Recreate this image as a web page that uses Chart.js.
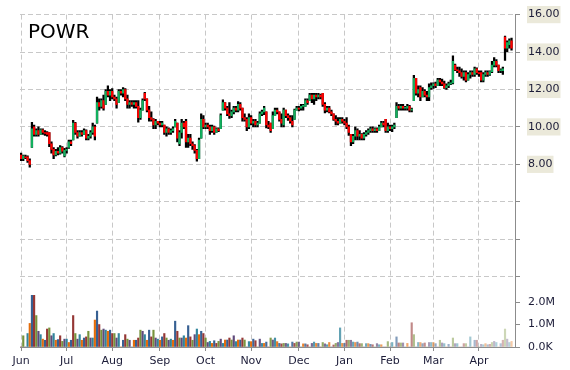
<!DOCTYPE html>
<html>
<head>
<meta charset="utf-8">
<script src="https://cdn.jsdelivr.net/npm/chart.js@4.4.1/dist/chart.umd.min.js"></script>
<style>
  body { margin: 0; background: #fff; }
  #wrap { width: 570px; height: 370px; }
</style>
</head>
<body>
<div id="wrap"><canvas id="chart"></canvas></div>
<script>
const symbol = "POWR";

// first trading day of each month (index into the daily arrays)
const monthLabels = ["Jun", "Jul", "Aug", "Sep", "Oct", "Nov", "Dec", "Jan", "Feb", "Mar", "Apr"];
const monthStarts = [0, 21, 42, 64, 85, 106, 128, 149, 170, 190, 211];

const priceTicks = [2, 4, 6, 8, 10, 12, 14, 16];
const volumeTicks = [0, 1, 2];

const opens = [
  8.5, 8.3, 8.4, 8.4, 8.2, 8.9, 10.0, 9.6, 9.8, 9.6, 9.85, 9.7, 9.7, 9.7, 9.1, 8.8, 8.5, 8.7, 8.6, 8.9, 8.45,
  8.75, 8.9, 9.2, 9.3, 10.2, 9.7, 9.5, 9.7, 9.6, 9.8, 9.4, 9.5, 9.7, 10.0, 10.2, 11.3, 11.1, 11.4, 11.2, 11.9, 11.7,
  11.9, 11.6, 11.5, 11.3, 11.9, 11.8, 12.0, 11.5, 11.2, 11.3, 11.2, 11.3, 11.1, 10.5, 10.9, 11.8, 11.5, 10.9, 10.5, 10.4, 10.1, 10.3,
  10.2, 10.1, 10.1, 9.7, 9.9, 9.7, 9.8, 10.0, 10.2, 9.1, 9.7, 10.2, 10.3, 9.2, 9.4, 9.1, 9.0, 8.75, 8.3, 9.4, 10.4,
  10.0, 10.1, 10.0, 9.8, 10.0, 9.7, 9.9, 9.9, 10.9, 11.3, 11.0, 10.7, 10.6, 10.8, 11.0, 10.9, 11.2, 11.0, 10.5, 10.4, 10.0,
  10.5, 10.2, 10.3, 10.1, 10.2, 10.7, 10.8, 10.8, 10.1, 10.2, 9.9, 10.6, 10.9, 10.8, 10.4, 10.1, 10.9, 10.6, 10.5, 10.3, 10.4, 10.9,
  11.0, 11.0, 11.1, 11.1, 11.4, 11.4, 11.7, 11.5, 11.7, 11.6, 11.7, 11.8, 11.2, 10.9, 11.0, 10.8, 10.7, 10.4, 10.3, 10.2, 10.4,
  10.3, 10.2, 10.0, 9.6, 9.2, 9.5, 9.8, 9.5, 9.6, 9.4, 9.6, 9.7, 9.8, 9.9, 9.8, 9.9, 9.8, 10.0, 10.2, 10.4, 9.8,
  10.0, 9.9, 10.0, 10.5, 11.1, 11.0, 11.1, 11.0, 11.0, 11.1, 10.9, 11.4, 12.6, 11.8, 12.1, 11.6, 11.9, 11.7, 11.6, 12.1,
  12.2, 12.3, 12.2, 12.5, 12.4, 12.3, 12.1, 12.2, 12.3, 12.35, 13.3, 13.05, 13.0, 12.9, 12.7, 12.9, 12.5, 12.8, 12.9, 12.8, 13.1,
  12.9, 12.9, 12.5, 12.8, 12.9, 12.8, 12.95, 13.3, 13.5, 13.3, 13.0, 13.0, 14.8, 14.2, 14.4, 14.6
];
const highs = [
  8.6, 8.5, 8.5, 8.45, 8.3, 10.25, 10.1, 9.9, 10.0, 9.9, 9.9, 9.8, 9.75, 9.7, 9.2, 8.9, 8.8, 8.9, 9.0, 8.95, 8.85,
  8.9, 9.3, 9.3, 10.35, 10.25, 9.8, 9.8, 9.8, 9.9, 9.85, 9.6, 9.8, 10.2, 10.1, 11.6, 11.5, 11.5, 11.7, 12.0, 12.2, 12.0,
  12.05, 11.7, 11.6, 12.0, 12.0, 12.1, 12.05, 11.7, 11.4, 11.4, 11.4, 11.4, 11.4, 11.0, 11.5, 11.85, 11.5, 11.1, 10.8, 10.45, 10.4, 10.3,
  10.3, 10.3, 10.1, 10.0, 9.95, 9.9, 10.0, 10.4, 10.2, 9.8, 10.4, 10.3, 10.4, 9.6, 9.6, 9.2, 9.05, 8.8, 9.4, 10.7, 10.6,
  10.2, 10.2, 10.1, 10.1, 10.05, 9.95, 9.95, 10.7, 11.45, 11.3, 11.1, 11.3, 10.9, 11.1, 11.1, 11.35, 11.3, 11.0, 10.7, 10.5, 10.7,
  10.6, 10.4, 10.4, 10.3, 10.8, 10.9, 11.1, 10.8, 10.3, 10.2, 10.8, 11.0, 11.0, 10.8, 10.7, 11.0, 10.9, 10.7, 10.6, 10.6, 10.95, 11.1,
  11.1, 11.2, 11.2, 11.5, 11.5, 11.8, 11.8, 11.8, 11.8, 11.8, 11.75, 11.8, 11.3, 11.1, 11.1, 10.9, 10.7, 10.6, 10.5, 10.5, 10.5,
  10.4, 10.5, 10.1, 9.6, 9.6, 10.0, 9.9, 9.8, 9.65, 9.7, 9.8, 9.9, 10.0, 10.0, 9.95, 9.95, 10.1, 10.3, 10.3, 10.4, 10.2,
  10.1, 10.1, 10.2, 11.3, 11.2, 11.2, 11.2, 11.1, 11.2, 11.15, 11.0, 12.75, 12.6, 12.2, 12.2, 12.1, 12.0, 11.9, 12.3, 12.35,
  12.35, 12.4, 12.6, 12.6, 12.55, 12.45, 12.3, 12.4, 12.5, 13.8, 13.35, 13.2, 13.2, 13.1, 13.0, 13.0, 12.9, 13.0, 13.0, 13.2, 13.15,
  13.0, 13.0, 12.9, 13.0, 13.0, 13.0, 13.5, 13.7, 13.6, 13.3, 13.1, 13.2, 14.85, 14.6, 14.7, 14.75
];
const lows = [
  8.2, 8.2, 8.3, 8.1, 7.85, 8.9, 9.5, 9.5, 9.5, 9.6, 9.6, 9.55, 9.5, 8.95, 8.6, 8.3, 8.45, 8.5, 8.55, 8.6, 8.4,
  8.6, 8.85, 9.0, 9.3, 9.6, 9.4, 9.5, 9.5, 9.6, 9.3, 9.3, 9.4, 9.6, 9.3, 10.2, 10.9, 11.0, 10.9, 11.2, 11.6, 11.4,
  11.5, 11.4, 11.0, 11.3, 11.7, 11.6, 11.4, 11.0, 11.0, 11.1, 11.0, 11.0, 10.25, 10.4, 10.9, 11.4, 10.8, 10.3, 10.3, 9.9, 9.9, 10.1,
  10.0, 10.0, 9.6, 9.5, 9.6, 9.6, 9.7, 10.0, 9.2, 9.0, 9.4, 9.9, 8.9, 8.9, 9.0, 8.8, 8.6, 8.17, 8.3, 9.4, 9.9,
  9.9, 9.9, 9.6, 9.7, 9.6, 9.7, 9.75, 9.9, 10.9, 10.9, 10.6, 10.45, 10.5, 10.7, 10.8, 10.8, 10.9, 10.3, 10.3, 9.8, 9.9,
  10.1, 10.0, 10.0, 10.0, 10.2, 10.6, 10.65, 9.95, 9.9, 9.7, 9.9, 10.6, 10.7, 10.3, 10.0, 10.0, 10.5, 10.35, 10.2, 10.0, 10.4, 10.9,
  10.85, 10.9, 10.9, 11.1, 11.2, 11.4, 11.3, 11.2, 11.4, 11.5, 11.5, 11.1, 10.75, 10.8, 10.75, 10.6, 10.35, 10.1, 10.1, 10.2, 10.2,
  10.1, 9.9, 9.55, 9.0, 9.1, 9.3, 9.3, 9.3, 9.3, 9.3, 9.5, 9.6, 9.7, 9.7, 9.7, 9.7, 9.8, 10.0, 10.0, 9.7, 9.7,
  9.8, 9.75, 9.9, 10.5, 10.9, 10.9, 10.9, 10.9, 10.9, 10.8, 10.8, 11.4, 11.7, 11.6, 11.4, 11.6, 11.6, 11.4, 11.4, 12.0,
  12.05, 12.1, 12.2, 12.2, 12.2, 12.05, 12.0, 12.1, 12.25, 12.3, 13.0, 12.9, 12.7, 12.6, 12.5, 12.4, 12.5, 12.6, 12.7, 12.7, 12.8,
  12.7, 12.4, 12.4, 12.7, 12.7, 12.75, 12.9, 13.2, 13.2, 12.9, 12.9, 12.8, 13.55, 14.0, 14.2, 14.1
];
const closes = [
  8.3, 8.45, 8.35, 8.2, 8.0, 9.9, 9.6, 9.8, 9.6, 9.85, 9.7, 9.65, 9.6, 9.1, 8.8, 8.5, 8.7, 8.6, 8.9, 8.7, 8.75,
  8.8, 9.2, 9.1, 10.2, 9.7, 9.5, 9.7, 9.6, 9.8, 9.4, 9.5, 9.7, 10.0, 9.5, 11.3, 11.1, 11.4, 11.0, 11.9, 11.7, 11.9,
  11.6, 11.5, 11.2, 11.9, 11.8, 12.0, 11.5, 11.2, 11.3, 11.2, 11.3, 11.1, 10.5, 10.9, 11.4, 11.5, 10.9, 10.5, 10.4, 10.1, 10.3, 10.2,
  10.1, 10.2, 9.7, 9.9, 9.7, 9.8, 9.9, 10.3, 9.4, 9.7, 10.2, 10.0, 9.2, 9.4, 9.1, 9.0, 8.75, 8.3, 9.3, 10.4, 10.0,
  10.1, 10.0, 9.8, 10.0, 9.7, 9.9, 9.8, 10.6, 11.3, 11.0, 10.7, 10.6, 10.8, 11.0, 10.9, 11.2, 11.0, 10.5, 10.4, 10.0, 10.5,
  10.2, 10.3, 10.1, 10.2, 10.7, 10.8, 11.0, 10.1, 10.0, 9.8, 10.6, 10.9, 10.8, 10.4, 10.2, 10.9, 10.6, 10.5, 10.3, 10.1, 10.9, 11.0,
  10.95, 11.1, 11.15, 11.4, 11.3, 11.7, 11.5, 11.7, 11.6, 11.7, 11.6, 11.2, 10.9, 11.0, 10.8, 10.7, 10.4, 10.3, 10.2, 10.4, 10.3,
  10.2, 10.0, 9.7, 9.2, 9.5, 9.8, 9.5, 9.6, 9.4, 9.6, 9.7, 9.8, 9.9, 9.8, 9.9, 9.8, 10.0, 10.2, 10.1, 9.8, 10.0,
  9.9, 10.0, 10.1, 11.1, 11.0, 11.1, 11.0, 11.05, 11.1, 10.9, 10.95, 12.6, 11.8, 12.0, 11.6, 11.9, 11.7, 11.6, 12.1, 12.2,
  12.3, 12.2, 12.5, 12.4, 12.3, 12.1, 12.2, 12.3, 12.35, 13.5, 13.05, 13.0, 12.9, 12.7, 12.9, 12.5, 12.8, 12.9, 12.8, 13.1, 12.9,
  12.85, 12.5, 12.8, 12.9, 12.8, 12.95, 13.3, 13.5, 13.3, 13.0, 13.05, 13.1, 14.2, 14.5, 14.6, 14.2
];
// millions of shares
const volume = [
  0, 0.5, 0, 0.6, 1.05, 2.3, 2.3, 1.4, 0.7, 0.55, 0.35, 0.3, 0.8, 0.85, 0.5, 0.6, 0.3, 0.33, 0.5, 0.25, 0.35,
  0.35, 0.2, 0.3, 1.4, 0.6, 0.35, 0.55, 0.3, 0.4, 0.45, 0.7, 0.4, 0.4, 1.2, 1.6, 1.0, 0.75, 0.8, 0.75, 0.7, 0.75,
  0.6, 0.6, 0.4, 0.6, 0, 0.3, 0.55, 0.35, 0.3, 0, 0.3, 0.3, 0.4, 0.75, 0.7, 0.55, 0.3, 0.75, 0.45, 0.75, 0.4, 0.35,
  0.3, 0.45, 0.6, 0.4, 0.3, 0.35, 0.3, 1.15, 0.7, 0.4, 0.4, 0.5, 0.4, 0.95, 0.45, 0.3, 0.55, 0.8, 0.55, 0.7, 0.6,
  0.4, 0.2, 0.25, 0.16, 0.28, 0.16, 0.25, 0.35, 0.16, 0.31, 0.31, 0.4, 0.31, 0.5, 0.24, 0.31, 0.31, 0.4, 0.31, 0, 0.24,
  0.24, 0.35, 0.28, 0, 0.35, 0.16, 0.16, 0.22, 0, 0.4, 0.31, 0.4, 0.24, 0.16, 0.14, 0.16, 0.16, 0.14, 0, 0.22, 0.16, 0.22,
  0.22, 0, 0.14, 0.14, 0.1, 0, 0.16, 0.22, 0.16, 0.16, 0, 0.2, 0.14, 0.1, 0.2, 0, 0.09, 0.16, 0.2, 0.85, 0.16,
  0.16, 0.3, 0.3, 0.3, 0.22, 0.2, 0.22, 0.15, 0.15, 0, 0.15, 0.15, 0.12, 0.1, 0, 0.15, 0.1, 0.1, 0, 0, 0.24,
  0, 0.2, 0, 0.45, 0.18, 0.18, 0.18, 0, 0.16, 0, 1.08, 0.55, 0, 0.2, 0.2, 0.15, 0.18, 0, 0.2, 0.2,
  0.2, 0.15, 0, 0.3, 0.18, 0.15, 0, 0.12, 0, 0.4, 0.15, 0.15, 0, 0, 0.15, 0.15, 0, 0.45, 0, 0.3, 0.3,
  0, 0.12, 0.1, 0.15, 0.1, 0.12, 0.2, 0.25, 0.2, 0, 0.15, 0.3, 0.8, 0.35, 0.2, 0.25
];

const volPalette = ["#953735", "#77933c", "#604a7b", "#31859c", "#e46c0a", "#376092"];

function volColor(i) {
  const hex = volPalette[i % volPalette.length];
  const r = parseInt(hex.slice(1, 3), 16);
  const g = parseInt(hex.slice(3, 5), 16);
  const b = parseInt(hex.slice(5, 7), 16);
  const a = i < 100 ? 1 : 1 - 0.65 * (i - 100) / (volume.length - 100);
  return `rgba(${r}, ${g}, ${b}, ${a.toFixed(2)})`;
}

const symbolTitle = {
  id: "symbolTitle",
  afterDraw(chart) {
    const ctx = chart.ctx;
    ctx.save();
    ctx.font = '20px "DejaVu Sans"';
    ctx.fillStyle = "#000";
    ctx.textBaseline = "alphabetic";
    ctx.fillText(symbol, 28, 38);
    ctx.restore();
  }
};

Chart.defaults.font.family = "DejaVu Sans";
Chart.defaults.font.size = 11;

const gridGray = "#c8c8c8";
const axisGray = "#8c8c8c";
const labelColor = "#1c1c38";

new Chart(document.getElementById("chart"), {
  type: "bar",
  data: {
    datasets: [
      {
        label: "body",
        data: opens.map((o, i) => ({ x: i, y: [o, closes[i]] })),
        backgroundColor: opens.map((o, i) => closes[i] >= o ? "#12b05e" : "#ff0000"),
        barThickness: 1.6,
        grouped: false,
        yAxisID: "price",
        order: 0
      },
      {
        label: "range",
        data: lows.map((l, i) => ({ x: i, y: [l, highs[i]] })),
        backgroundColor: "#000",
        barThickness: 1.6,
        grouped: false,
        yAxisID: "price",
        order: 1
      },
      {
        label: "volume",
        data: volume.map((v, i) => ({ x: i, y: v })),
        backgroundColor: volume.map((v, i) => volColor(i)),
        barThickness: 1.5,
        grouped: false,
        yAxisID: "vol",
        order: 2
      }
    ]
  },
  options: {
    responsive: true,
    maintainAspectRatio: false,
    animation: false,
    layout: { padding: { left: 20, top: 14, right: 0, bottom: 0 } },
    plugins: { legend: { display: false }, tooltip: { enabled: false } },
    scales: {
      x: {
        type: "linear",
        offset: false,
        min: -0.5,
        max: 227.6,
        afterBuildTicks: s => { s.ticks = monthStarts.map(v => ({ value: v })); },
        afterFit: s => { s.height = 23; },
        ticks: {
          autoSkip: false,
          maxRotation: 0,
          padding: 4,
          color: labelColor,
          callback: (v, i) => monthLabels[i]
        },
        grid: { offset: false, color: gridGray, tickColor: axisGray, tickLength: 4, tickBorderDash: [] },
        border: { color: axisGray, dash: [5, 3] }
      },
      price: {
        position: "right",
        stack: "main",
        stackWeight: 271.9,
        min: 1.5,
        max: 16,
        afterBuildTicks: s => { s.ticks = priceTicks.map(v => ({ value: v })); },
        afterFit: s => { s.width = 55; },
        ticks: {
          padding: 8,
          color: labelColor,
          callback: v => v >= 8 ? v.toFixed(2) : "",
          showLabelBackdrop: c => c.tick && c.tick.value >= 8,
          backdropColor: "#ebe9da",
          backdropPadding: { x: 1, y: 2 }
        },
        grid: { color: gridGray, tickColor: axisGray, tickLength: 5, tickBorderDash: [] },
        border: { color: axisGray, dash: [5, 3] }
      },
      vol: {
        position: "right",
        stack: "main",
        stackWeight: 61.1,
        min: 0,
        max: 2.716,
        afterBuildTicks: s => { s.ticks = volumeTicks.map(v => ({ value: v })); },
        afterFit: s => { s.width = 55; },
        ticks: {
          padding: 8,
          color: labelColor,
          callback: v => v === 0 ? "0.0K" : v.toFixed(1) + "M"
        },
        grid: { drawOnChartArea: false, tickColor: axisGray, tickLength: 5 },
        border: { color: axisGray }
      }
    }
  },
  plugins: [symbolTitle]
});
</script>
</body>
</html>
